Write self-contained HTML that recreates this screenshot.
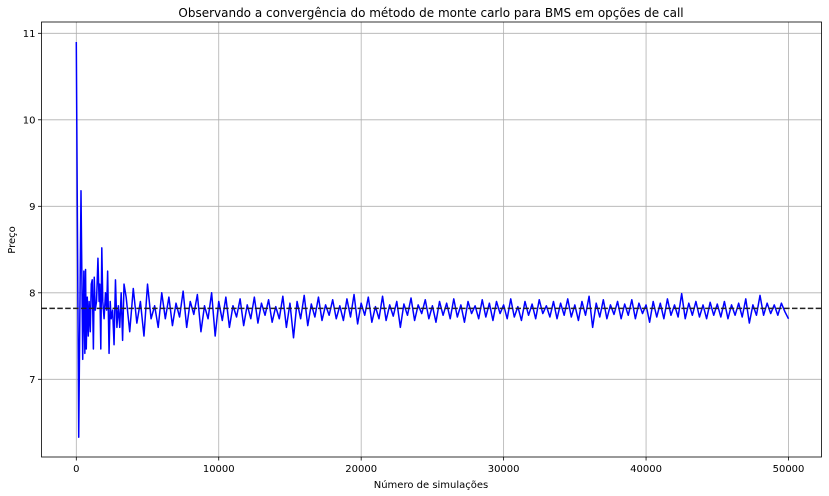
<!DOCTYPE html>
<html><head><meta charset="utf-8"><style>
body{margin:0;background:#fff;}
svg{display:block;font-family:"DejaVu Sans","Liberation Sans",sans-serif;}
</style></head><body>
<svg id="c" width="829" height="496">
<text x="431" y="17" text-anchor="middle" font-size="12">Observando a convergência do método de monte carlo para BMS em opções de call</text>
<text x="431" y="488" text-anchor="middle" font-size="10">Número de simulações</text>
<text transform="translate(15,240) rotate(-90)" text-anchor="middle" font-size="10">Preço</text>
</svg>
<script>
const earlySims=[0,170,330,450,530,600,650,700,770,840,900,980,1050,1120,1200,1260,1330,1420,1520,1600,1650,1720,1790,1860,1950,2050,2130,2200,2300,2380,2450,2550,2650,2750,2850,2950,3050,3150,3250,3350];
const earlyPrices=[10.9,6.33,9.18,7.23,8.25,7.3,8.27,7.35,7.95,7.5,7.9,7.55,8.1,8.15,7.35,8.18,7.8,7.9,8.4,7.9,8.1,7.35,8.52,7.9,7.7,8.0,7.8,8.25,7.3,7.9,7.7,7.8,7.4,8.15,7.6,7.85,7.6,8.0,7.45,8.1];
const laterStart=3500, laterStep=250;
const laterPrices=[
7.95,7.55,8.05,7.65,7.9,7.5,8.1,7.7,7.85,7.6,8.0,7.7,7.95,7.62,7.88,7.72,8.02,7.6,7.9,7.75,
7.98,7.55,7.85,7.7,8.0,7.5,7.9,7.68,7.95,7.6,7.85,7.72,7.93,7.62,7.86,7.7,7.95,7.65,7.88,7.74,
7.92,7.66,7.84,7.7,7.96,7.6,7.88,7.48,7.9,7.7,7.97,7.62,7.87,7.72,7.95,7.68,7.86,7.74,7.92,7.7,
7.85,7.68,7.93,7.72,7.98,7.64,7.88,7.74,7.95,7.66,7.84,7.7,7.96,7.68,7.86,7.73,7.9,7.6,7.87,7.74,
7.94,7.68,7.86,7.76,7.92,7.7,7.85,7.66,7.9,7.74,7.88,7.7,7.93,7.72,7.86,7.66,7.9,7.76,7.85,7.7,
7.92,7.72,7.88,7.68,7.9,7.76,7.86,7.7,7.93,7.72,7.84,7.68,7.9,7.74,7.87,7.7,7.92,7.76,7.85,7.72,
7.9,7.7,7.88,7.74,7.93,7.72,7.86,7.68,7.9,7.74,7.96,7.6,7.88,7.72,7.92,7.7,7.86,7.75,7.9,7.7,
7.87,7.74,7.92,7.7,7.88,7.76,7.86,7.66,7.9,7.72,7.88,7.7,7.93,7.74,7.86,7.72,7.99,7.7,7.88,7.74,
7.9,7.72,7.86,7.7,7.89,7.74,7.87,7.72,7.9,7.7,7.86,7.74,7.88,7.72,7.93,7.65,7.86,7.74,7.97,7.74,
7.88,7.76,7.86,7.74,7.88,7.78,7.7];
const refPrice=7.82;
const xTicks=[0,10000,20000,30000,40000,50000];
const yTicks=[7,8,9,10,11];

const NS="http://www.w3.org/2000/svg";
const svg=document.getElementById('c');
const L=41.5,R=821.5,T=22,B=457;
const X=v=>76.3+v*0.014244;
const Y=v=>379.3-(v-7)*86.5;
function mk(t,a){const e=document.createElementNS(NS,t);for(const k in a)e.setAttribute(k,a[k]);svg.appendChild(e);return e;}
xTicks.forEach(t=>{
  const g=mk('line',{x1:X(t),x2:X(t),y1:T,y2:B,stroke:'#b0b0b0','stroke-width':0.8});
  
  
  mk('line',{x1:X(t),x2:X(t),y1:B,y2:B+3.5,stroke:'#000','stroke-width':0.8});
  const l=mk('text',{x:X(t),y:B+15,'text-anchor':'middle','font-size':10});
  l.textContent=t;
  
  
});
yTicks.forEach(t=>{
  const g=mk('line',{x1:L,x2:R,y1:Y(t),y2:Y(t),stroke:'#b0b0b0','stroke-width':0.8});
  
  
  mk('line',{x1:L-3.5,x2:L,y1:Y(t),y2:Y(t),stroke:'#000','stroke-width':0.8});
  const l=mk('text',{x:L-6,y:Y(t)+3.5,'text-anchor':'end','font-size':10});
  l.textContent=t;
  
  
});
let pts=[];
earlySims.forEach((s,i)=>pts.push(X(s).toFixed(2)+','+Y(earlyPrices[i]).toFixed(2)));
laterPrices.forEach((p,i)=>pts.push(X(laterStart+i*laterStep).toFixed(2)+','+Y(p).toFixed(2)));
const line=mk('polyline',{points:pts.join(' '),fill:'none',stroke:'#0000ff','stroke-width':1.5,'stroke-linejoin':'round'});


const ref=mk('line',{x1:L,x2:R,y1:Y(refPrice),y2:Y(refPrice),stroke:'#222','stroke-width':1.5,'stroke-dasharray':'5.5,2.4'});


const fr=mk('rect',{x:L,y:T,width:R-L,height:B-T,fill:'none',stroke:'#000','stroke-width':0.8});


</script>
</body></html>
